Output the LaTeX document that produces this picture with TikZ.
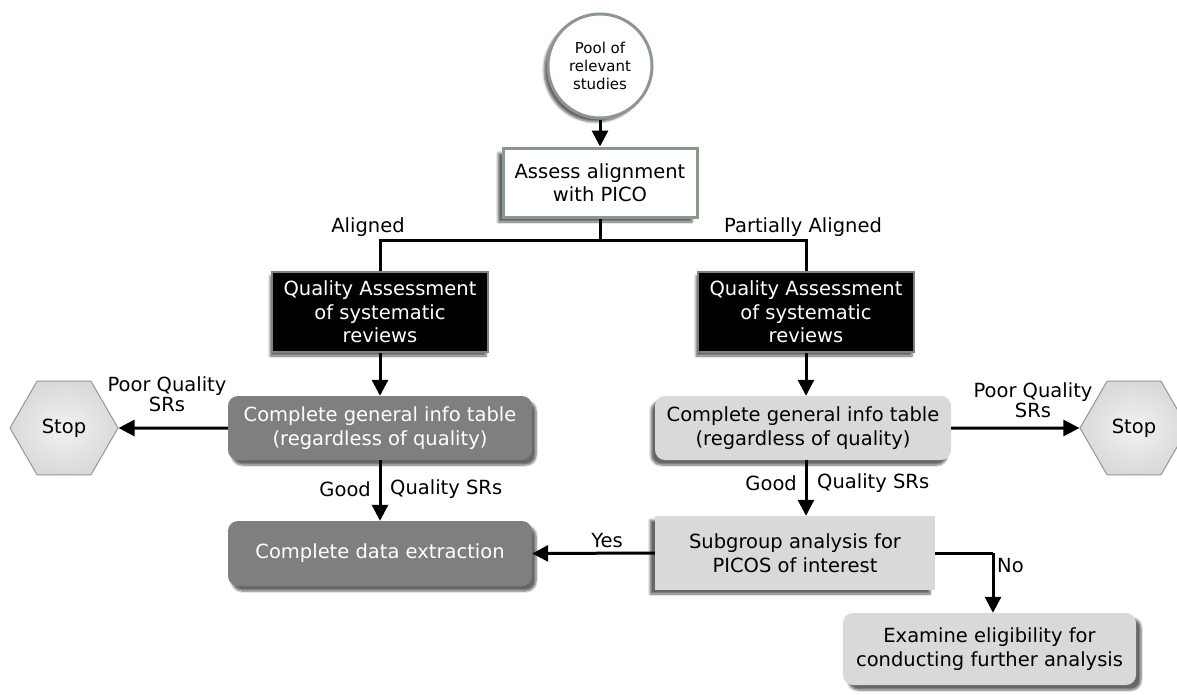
\documentclass[tikz,border=0pt]{standalone}
\usepackage{fontspec}
\setmainfont{DejaVu Sans}
\usetikzlibrary{shapes.geometric,shadows.blur,arrows.meta}
\definecolor{bordgreen}{RGB}{140,152,140}
\definecolor{darkfill}{RGB}{127,127,127}
\definecolor{lightfill}{RGB}{217,217,217}
\definecolor{hexedge}{RGB}{150,150,150}
\tikzset{
  x=1pt, y=-1pt,
  every node/.style={font=\fontsize{19.5}{23.5}\selectfont, inner sep=0pt, align=center},
  conn/.style={line width=3pt, draw=black},
  arr/.style={conn, -{Triangle[length=16pt,width=16pt]}},
  lbl/.style={font=\fontsize{19.5}{21}\selectfont},
  sh/.style 2 args={blur shadow={shadow xshift=#1, shadow yshift=#2, shadow blur steps=6, shadow opacity=60}},
  whitebox/.style={draw=bordgreen, line width=3pt, fill=white, minimum width=194pt, minimum height=69pt},
  blackbox/.style={draw=gray, line width=2pt, fill=black, text=white, minimum width=216pt, minimum height=80pt},
  darkround/.style={fill=darkfill, text=white, rounded corners=10pt, minimum width=304pt, minimum height=64pt},
  lightround/.style={fill=lightfill, text=black, rounded corners=10pt, minimum height=64pt},
  lightrect/.style={fill=lightfill, text=black, minimum width=280pt, minimum height=74pt},
  stopnode/.style={regular polygon, regular polygon sides=6, minimum size=108pt, draw=hexedge, line width=1pt, inner color=white!90!gray, outer color=lightfill},
}
\begin{document}
\begin{tikzpicture}
\useasboundingbox (0,0) rectangle (1177,694);
\clip (0,0) rectangle (1177,694);

% nodes
\node[circle, minimum size=104pt, draw=bordgreen, line width=3pt, fill=white, sh={-4pt}{-4pt}, font=\fontsize{15}{18}\selectfont] (pool) at (600,66) {Pool of\\relevant\\studies};
\node[whitebox, sh={-5pt}{-5pt}] (assess) at (600,182.5) {Assess alignment\\with PICO};
\node[blackbox, sh={-2pt}{-4pt}] (qa1) at (380,312) {Quality Assessment\\of systematic\\reviews};
\node[blackbox, sh={-2pt}{-4pt}] (qa2) at (806,312) {Quality Assessment\\of systematic\\reviews};
\node[darkround, sh={4pt}{-5pt}] (gen1) at (380,428) {Complete general info table\\(regardless of quality)};
\node[lightround, minimum width=296pt, sh={-4pt}{-5pt}] (gen2) at (803,428) {Complete general info table\\(regardless of quality)};
\node[stopnode] (stop1) at (64,428) {Stop};
\node[stopnode] (stop2) at (1134,428) {Stop};
\node[darkround, minimum height=65pt, sh={4pt}{-5pt}] (data) at (380,553.5) {Complete data extraction};
\node[lightrect, sh={-5pt}{-4pt}] (sub) at (795,553) {Subgroup analysis for\\PICOS of interest};
\node[lightround, minimum width=293pt, minimum height=72pt, sh={5pt}{-5pt}] (exam) at (989.5,649) {Examine eligibility for\\conducting further analysis};

% connectors
\coordinate (split) at (600,240);
\coordinate (noturn) at (993,553);
\draw[arr] (pool) -- (assess);
\draw[conn] (assess.south) -- (split);
\draw[conn] (split) -| (qa1.north);
\draw[conn] (split) -| (qa2.north);
\draw[arr] (qa1.south) -- (gen1.north);
\draw[arr] (qa2.south) -- (qa2.south |- gen2.north);
\draw[arr] (gen1.west) -- (stop1.east);
\draw[arr] (gen2.east) -- (stop2.west);
\draw[arr] (gen1.south) -- (data.north);
\draw[arr] (gen2.south -| qa2.south) -- (sub.north -| qa2.south);
\draw[arr] (sub.west) -- (data.east);
\draw[conn] (sub.east) -- (noturn);
\draw[arr] (noturn) -- (noturn |- exam.north);

% labels
\node[lbl] (lAligned) at (368,227) {Aligned};
\node[lbl] (lPartial) at (803,227) {Partially Aligned};
\node[lbl, font=\fontsize{19.5}{20}\selectfont] (lPoor1) at (167,394) {Poor Quality\\SRs};
\node[lbl, font=\fontsize{19.5}{20}\selectfont] (lPoor2) at (1033,400) {Poor Quality\\SRs};
\node[lbl, anchor=east] (lGood1) at (371,489) {Good};
\node[lbl, anchor=west] (lQual1) at (390,489) {Quality SRs};
\node[lbl, anchor=east] (lGood2) at (797,483) {Good};
\node[lbl, anchor=west] (lQual2) at (817,483) {Quality SRs};
\node[lbl] (lYes) at (607,541) {Yes};
\node[lbl, anchor=west] (lNo) at (997,566) {No};
\end{tikzpicture}
\end{document}
